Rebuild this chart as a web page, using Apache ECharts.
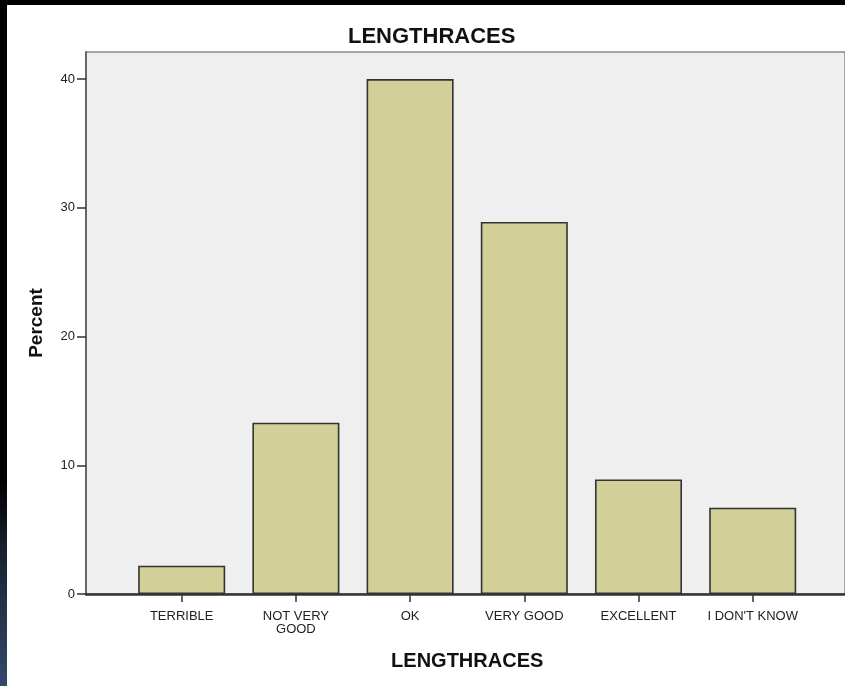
<!DOCTYPE html>
<html>
<head>
<meta charset="utf-8">
<script src="https://cdn.jsdelivr.net/npm/echarts@6/dist/echarts.min.js"></script>
<style>
  html, body { margin: 0; padding: 0; background: #ffffff; }
  #chart { width: 845px; height: 686px; }
</style>
</head>
<body>
<div id="chart"></div>
<script>
const chartTitle = 'LENGTHRACES';
const xAxisTitle = 'LENGTHRACES';
const yAxisTitle = 'Percent';
const categories = ['TERRIBLE', 'NOT VERY\nGOOD', 'OK', 'VERY GOOD', 'EXCELLENT', "I DON'T KNOW"];
const percentValues = [2.2, 13.3, 40.0, 28.9, 8.9, 6.7];
const yTickInterval = 10;
const yMin = 0;
const yMax = 42.1;

const chart = echarts.init(document.getElementById('chart'), null, { renderer: 'canvas' });
const FONT = "'Liberation Sans', Arial, sans-serif";

const option = {
  animation: false,
  backgroundColor: '#ffffff',
  title: {
    text: chartTitle,
    left: 343,
    top: 21,
    textStyle: { fontFamily: FONT, fontSize: 22, fontWeight: 'bold', color: '#111' }
  },
  grid: [
    { left: 86, top: 52, right: -12, bottom: 92, show: true, backgroundColor: '#efefef', borderColor: '#8a8a8a', borderWidth: 1.5, containLabel: false },
    { left: 124.6, top: 52, right: 35.2, bottom: 92, show: false, containLabel: false }
  ],
  xAxis: [
    {
      gridIndex: 0, type: 'value', min: 0, max: 1,
      axisLine: { show: true, lineStyle: { color: '#333', width: 2.5 } },
      axisTick: { show: false }, axisLabel: { show: false }, splitLine: { show: false }
    },
    {
      gridIndex: 1, type: 'category', data: categories, boundaryGap: true,
      name: xAxisTitle, nameLocation: 'middle', nameGap: 57,
      nameTextStyle: { fontFamily: FONT, fontSize: 20, fontWeight: 'bold', color: '#111' },
      axisLine: { show: false },
      axisTick: { show: true, alignWithLabel: true, length: 8, lineStyle: { color: '#333', width: 1.5 } },
      axisLabel: { fontFamily: FONT, fontSize: 13, color: '#222', margin: 16, lineHeight: 13, interval: 0 },
      splitLine: { show: false }
    }
  ],
  yAxis: [
    {
      gridIndex: 0, type: 'value', min: yMin, max: yMax, interval: yTickInterval,
      name: yAxisTitle, nameLocation: 'middle', nameGap: 40, nameRotate: 90,
      nameTextStyle: { fontFamily: FONT, fontSize: 19, fontWeight: 'bold', color: '#111' },
      axisLine: { show: true, lineStyle: { color: '#666', width: 2 } },
      axisTick: { show: true, inside: false, length: 9, lineStyle: { color: '#333', width: 1.5 } },
      axisLabel: { fontFamily: FONT, fontSize: 13, color: '#222', margin: 11, showMaxLabel: false,
        formatter: v => (v % yTickInterval === 0 ? String(v) : '') },
      splitLine: { show: false }
    },
    {
      gridIndex: 1, type: 'value', min: yMin, max: yMax, interval: yTickInterval, show: false,
      splitLine: { show: false }
    }
  ],
  series: [
    {
      type: 'bar', xAxisIndex: 1, yAxisIndex: 1,
      data: percentValues,
      barCategoryGap: '23.8%',
      itemStyle: { color: '#d3cf98', borderColor: '#333', borderWidth: 1.6 }
    }
  ],
  graphic: [
    { type: 'rect', left: 0, top: 0, shape: { width: 845, height: 5 }, style: { fill: '#000' }, z: 100 },
    { type: 'rect', left: 0, top: 0, shape: { width: 7, height: 686 },
      style: { fill: new echarts.graphic.LinearGradient(0, 0, 0, 1, [
        { offset: 0, color: '#000000' },
        { offset: 0.70, color: '#000000' },
        { offset: 0.80, color: '#18222f' },
        { offset: 1, color: '#34486a' }
      ]) }, z: 100 }
  ]
};
chart.setOption(option);
</script>
</body>
</html>
